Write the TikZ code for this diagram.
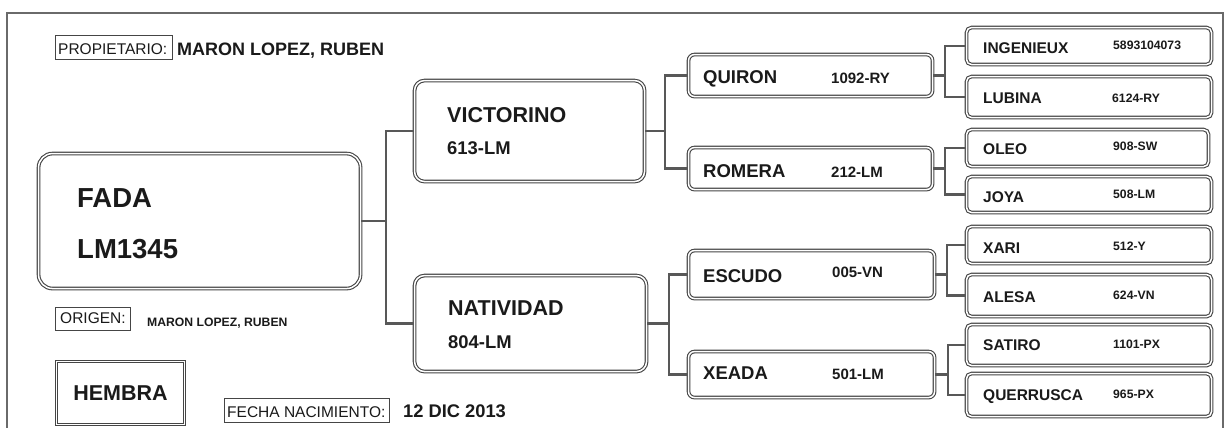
\documentclass[tikz,border=0pt]{standalone}
\usepackage{fontspec}
\setmainfont{Liberation Sans}
\definecolor{ln}{HTML}{454545}
\definecolor{tx}{HTML}{1A1A1A}
\tikzset{
  box/.style={draw=ln, double=white, double distance=1.5pt, line width=1.1pt, anchor=north west, inner sep=0pt},
  lblbox/.style={draw=ln, line width=1pt, anchor=north west, inner sep=0pt},
  conn/.style={draw=ln!90, line width=2.7pt},
  frame/.style={draw=ln!80, line width=2.2pt},
  txt/.style={text=tx, inner sep=0pt, anchor=base west},
  fbig/.style={txt, font=\bfseries\fontsize{27.5}{30}\selectfont},
  fone/.style={txt, font=\bfseries\fontsize{21.5}{24}\selectfont},
  fonen/.style={txt, font=\bfseries\fontsize{18.4}{21}\selectfont},
  ftwo/.style={txt, font=\bfseries\fontsize{18.5}{21}\selectfont},
  ftwon/.style={txt, font=\bfseries\fontsize{15}{17}\selectfont},
  fthree/.style={txt, font=\bfseries\fontsize{15.5}{17}\selectfont},
  fthreen/.style={txt, font=\bfseries\fontsize{12.2}{14}\selectfont},
  flbl/.style={txt, font=\fontsize{15.5}{17}\selectfont},
}
\begin{document}
\begin{tikzpicture}[x=1pt,y=-1pt]
\useasboundingbox (0,0) rectangle (1231,428);
\clip (0,0) rectangle (1231,428);
\fill[white] (0,0) rectangle (1231,428);
% outer frame
\draw[frame] (7,440) -- (7,13) -- (1223,13) -- (1223,440);

% boxes
\node[box, rounded corners=14pt, minimum width=322, minimum height=135] (fada) at (38,153) {};
\node[box, rounded corners=10pt, minimum width=230, minimum height=101] (vic) at (414,80) {};
\node[box, rounded corners=10pt, minimum width=232, minimum height=96] (nat) at (414,275) {};
\node[box, rounded corners=6pt, minimum width=244, minimum height=42] (qui) at (688,54) {};
\node[box, rounded corners=6pt, minimum width=244, minimum height=42] (rom) at (688,147) {};
\node[box, rounded corners=6pt, minimum width=246, minimum height=48] (esc) at (688,250) {};
\node[box, rounded corners=6pt, minimum width=246, minimum height=46] (xea) at (688,351) {};
\node[box, rounded corners=5pt, minimum width=245, minimum height=37] (ing) at (966,27) {};
\node[box, rounded corners=5pt, minimum width=245, minimum height=41] (lub) at (966,76) {};
\node[box, rounded corners=5pt, minimum width=242, minimum height=37] (ole) at (966,129) {};
\node[box, rounded corners=5pt, minimum width=245, minimum height=36] (joy) at (966,176) {};
\node[box, rounded corners=5pt, minimum width=245, minimum height=37] (xar) at (966,226) {};
\node[box, rounded corners=5pt, minimum width=245, minimum height=42] (ale) at (966,274) {};
\node[box, rounded corners=5pt, minimum width=245, minimum height=41] (sat) at (966,324) {};
\node[box, rounded corners=5pt, minimum width=245, minimum height=43] (que) at (966,373) {};
\node[box, minimum width=128, minimum height=63] (hem) at (56,361) {};
\node[lblbox, minimum width=117, minimum height=24] (pbox) at (55,35) {};
\node[lblbox, minimum width=75, minimum height=23] (obox) at (55,307) {};
\node[lblbox, minimum width=165, minimum height=24] (fbox) at (224,398) {};

% junctions
\coordinate (j1) at (386,0);
\coordinate (j2) at (665,0);
\coordinate (j3) at (669,0);
\coordinate (j4) at (945,0);
\coordinate (j5) at (945,0);
\coordinate (j6) at (947,0);
\coordinate (j7) at (948,0);

% connectors
\draw[conn] (fada.east) -- (fada.east -| j1);
\draw[conn] (vic.west) -- (vic.west -| j1) -- (nat.west -| j1) -- (nat.west);
\draw[conn] (vic.east) -- (vic.east -| j2);
\draw[conn] (qui.west) -- (qui.west -| j2) -- (rom.west -| j2) -- (rom.west);
\draw[conn] (nat.east) -- (nat.east -| j3);
\draw[conn] (esc.west) -- (esc.west -| j3) -- (xea.west -| j3) -- (xea.west);
\draw[conn] (qui.east) -- (qui.east -| j4);
\draw[conn] (ing.west) -- (ing.west -| j4) -- (lub.west -| j4) -- (lub.west);
\draw[conn] (rom.east) -- (rom.east -| j5);
\draw[conn] (ole.west) -- (ole.west -| j5) -- (joy.west -| j5) -- (joy.west);
\draw[conn] (esc.east) -- (esc.east -| j6);
\draw[conn] (xar.west) -- (xar.west -| j6) -- (ale.west -| j6) -- (ale.west);
\draw[conn] (xea.east) -- (xea.east -| j7);
\draw[conn] (sat.west) -- (sat.west -| j7) -- (que.west -| j7) -- (que.west);

% header / footer texts
\node[flbl] (ptxt) at (58,55) {PROPIETARIO:};
\node[txt, font=\bfseries\fontsize{18}{20}\selectfont] (owner) at (177,56) {MARON LOPEZ, RUBEN};
\node[flbl] (otxt) at (60,323) {ORIGEN:};
\node[txt, font=\bfseries\fontsize{12.2}{14}\selectfont] (oname) at (147,326) {MARON LOPEZ, RUBEN};
\node[text=tx, inner sep=0pt, font=\bfseries\fontsize{21.5}{24}\selectfont] (htxt) at (hem.center) {HEMBRA};
\node[flbl] (ftxt) at (227,417) {FECHA NACIMIENTO:};
\node[txt, font=\bfseries\fontsize{18.3}{20}\selectfont] (fdate) at (403,417) {12 DIC 2013};

% main animal
\node[fbig] (t0a) at (77,207) {FADA};
\node[fbig] (t0b) at (77,258) {LM1345};
% parents
\node[fone] (t1a) at (447,122) {VICTORINO};
\node[fonen] (t1b) at (447,154) {613-LM};
\node[fone] (t2a) at (448,315) {NATIVIDAD};
\node[fonen] (t2b) at (448,348) {804-LM};
% grandparents
\node[ftwo] (g1a) at (703,84) {QUIRON};
\node[ftwon] (g1b) at (831,83) {1092-RY};
\node[ftwo] (g2a) at (703,177) {ROMERA};
\node[ftwon] (g2b) at (831,177) {212-LM};
\node[ftwo] (g3a) at (703,282) {ESCUDO};
\node[ftwon] (g3b) at (832,277) {005-VN};
\node[ftwo] (g4a) at (703,379) {XEADA};
\node[ftwon] (g4b) at (832,379) {501-LM};
% great-grandparents
\node[fthree] (h1a) at (983,53) {INGENIEUX};
\node[fthreen] (h1b) at (1113,50) {5893104073};
\node[fthree] (h2a) at (983,103) {LUBINA};
\node[fthreen] (h2b) at (1112,102) {6124-RY};
\node[fthree] (h3a) at (983,154) {OLEO};
\node[fthreen] (h3b) at (1113,150) {908-SW};
\node[fthree] (h4a) at (983,202) {JOYA};
\node[fthreen] (h4b) at (1113,198) {508-LM};
\node[fthree] (h5a) at (983,253) {XARI};
\node[fthreen] (h5b) at (1113,250) {512-Y};
\node[fthree] (h6a) at (983,302) {ALESA};
\node[fthreen] (h6b) at (1113,299) {624-VN};
\node[fthree] (h7a) at (983,350) {SATIRO};
\node[fthreen] (h7b) at (1113,348) {1101-PX};
\node[fthree] (h8a) at (983,400) {QUERRUSCA};
\node[fthreen] (h8b) at (1113,398) {965-PX};
\end{tikzpicture}
\end{document}
